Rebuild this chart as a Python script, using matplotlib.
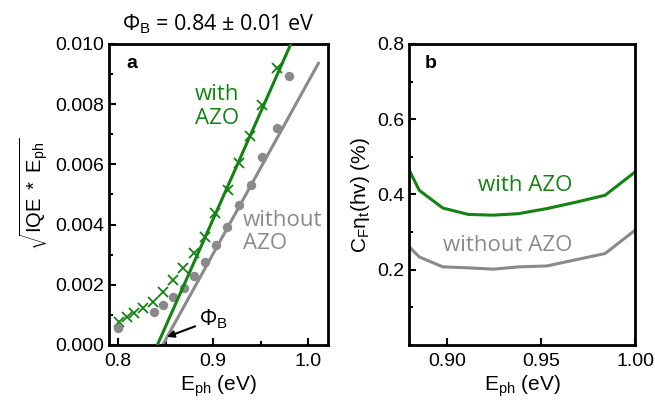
import numpy as np
import matplotlib
matplotlib.use('Agg')
import matplotlib.pyplot as plt
from matplotlib.ticker import MultipleLocator

plt.rcParams['font.family'] = ['Liberation Sans', 'DejaVu Sans']
plt.rcParams['mathtext.fontset'] = 'custom'
plt.rcParams['mathtext.rm'] = 'Liberation Sans'
plt.rcParams['mathtext.it'] = 'Liberation Sans'

green = '#138313'
gray = '#8a8a8a'

# panel a data
x_with = [0.8014, 0.809, 0.817, 0.8267, 0.8365, 0.847, 0.8575, 0.8688, 0.880,
          0.8916, 0.902, 0.9155, 0.9274, 0.939, 0.9513, 0.967]
y_with = [0.00077, 0.00094, 0.00107, 0.00122, 0.00144, 0.00177, 0.00216, 0.00255,
          0.00305, 0.0036, 0.00437, 0.00515, 0.00604, 0.00694, 0.00797, 0.00919]
x_without = [0.8003, 0.838, 0.8477, 0.8582, 0.8698, 0.8803, 0.8916, 0.9032,
             0.9144, 0.9274, 0.9396, 0.9519, 0.967, 0.9803]
y_without = [0.00058, 0.0011, 0.00133, 0.0016, 0.0019, 0.00229, 0.00275, 0.00332,
             0.00393, 0.00465, 0.00532, 0.00626, 0.00722, 0.00895]
# linear fits: x-intercept (eV) and slope (per eV)
fit_with = (0.8414, 0.0712)
fit_without = (0.847, 0.0571)

# panel b data
eph_b = [0.88, 0.8853, 0.8978, 0.9114, 0.9247, 0.938, 0.9531, 0.969, 0.9841, 1.0]
cf_with = [0.464, 0.411, 0.364, 0.347, 0.345, 0.349, 0.3625, 0.380, 0.398, 0.4596]
cf_without = [0.2607, 0.234, 0.2076, 0.205, 0.2015, 0.2076, 0.210, 0.227, 0.243, 0.305]

fig = plt.figure(figsize=(6.55, 4.01), dpi=100)
ax1 = fig.add_axes([0.1664, 0.1397, 0.3344, 0.7506])
ax2 = fig.add_axes([0.6249, 0.1397, 0.3446, 0.7506])

# --- panel a
ax1.plot(x_with, y_with, 'x', color=green, ms=7, mew=1.3, zorder=3)
ax1.plot(x_without, y_without, 'o', color=gray, ms=6.8, mec='none', zorder=3)
xf = np.array([fit_with[0], 1.0])
ax1.plot(xf, fit_with[1] * (xf - fit_with[0]), color=green, lw=2.2, zorder=4)
xf = np.array([fit_without[0], 1.0109])
ax1.plot(xf, fit_without[1] * (xf - fit_without[0]), color=gray, lw=2.2, zorder=2)

ax1.set_xlim(0.7905, 1.021)
ax1.set_ylim(0, 0.010)
ax1.xaxis.set_minor_locator(MultipleLocator(0.05))
ax1.yaxis.set_minor_locator(MultipleLocator(0.001))
yt = [0.0, 0.002, 0.004, 0.006, 0.008, 0.010]
ax1.set_yticks(yt)
ax1.set_yticklabels(['%.3f' % v for v in yt])
ax1.set_xticks([0.8, 0.9, 1.0])
ax1.set_xticklabels(['0.8', '0.9', '1.0'])

ax1.set_xlabel('E$_{\\mathrm{ph}}$ (eV)', fontsize=15, labelpad=2)
ax1.set_ylabel(r'$\sqrt{\mathrm{IQE\ *\ E_{ph}}}$', fontsize=14.5, labelpad=4)
ax1.set_title(r'Φ$_\mathrm{B}$ = 0.84 ± 0.01 eV', fontsize=15.5, family='Open Sans', pad=10)

ax1.text(0.809, 0.0092, 'a', fontsize=14, fontweight='bold')
ax1.text(0.881, 0.00792, 'with\nAZO', color=green, fontsize=16, family='Open Sans',
         ha='left', va='center', linespacing=1.15)
ax1.text(0.9316, 0.00375, 'without\nAZO', color=gray, fontsize=16, family='Open Sans',
         ha='left', va='center', linespacing=1.15)
ax1.annotate('Φ$_\\mathrm{B}$', xy=(0.8516, 0.00027), xytext=(0.8855, 0.00085),
             fontsize=15.5, family='Open Sans', ha='left', va='center',
             arrowprops=dict(arrowstyle='-|>', color='black', lw=1.5,
                             mutation_scale=10, shrinkA=1, shrinkB=0))

# --- panel b
ax2.plot(eph_b, cf_with, color=green, lw=2.2)
ax2.plot(eph_b, cf_without, color=gray, lw=2.2)
ax2.set_xlim(0.88, 1.0)
ax2.set_ylim(0, 0.8)
ax2.set_xticks([0.90, 0.95, 1.00])
ax2.set_xticklabels(['0.90', '0.95', '1.00'])
ax2.yaxis.set_minor_locator(MultipleLocator(0.1))
ax2.set_yticks([0.2, 0.4, 0.6, 0.8])
ax2.set_yticklabels(['0.2', '0.4', '0.6', '0.8'])
ax2.set_xlabel('E$_{\\mathrm{ph}}$ (eV)', fontsize=15, labelpad=2)
ax2.set_ylabel('C$_\\mathrm{F}$η$_\\mathrm{t}$(hv) (%)', fontsize=15, labelpad=4)
ax2.text(0.8884, 0.735, 'b', fontsize=14, fontweight='bold')
ax2.text(0.9416, 0.425, 'with AZO', color=green, fontsize=16, family='Open Sans',
         ha='center', va='center')
ax2.text(0.9325, 0.265, 'without AZO', color=gray, fontsize=16, family='Open Sans',
         ha='center', va='center')

for ax in (ax1, ax2):
    for s in ax.spines.values():
        s.set_linewidth(2)
    ax.tick_params(which='both', direction='in', labelsize=14, width=1.5)
    ax.tick_params(which='major', length=5)
    ax.tick_params(which='minor', length=3)
    ax.tick_params(axis='x', pad=6)

fig.savefig('out.png', dpi=100)
